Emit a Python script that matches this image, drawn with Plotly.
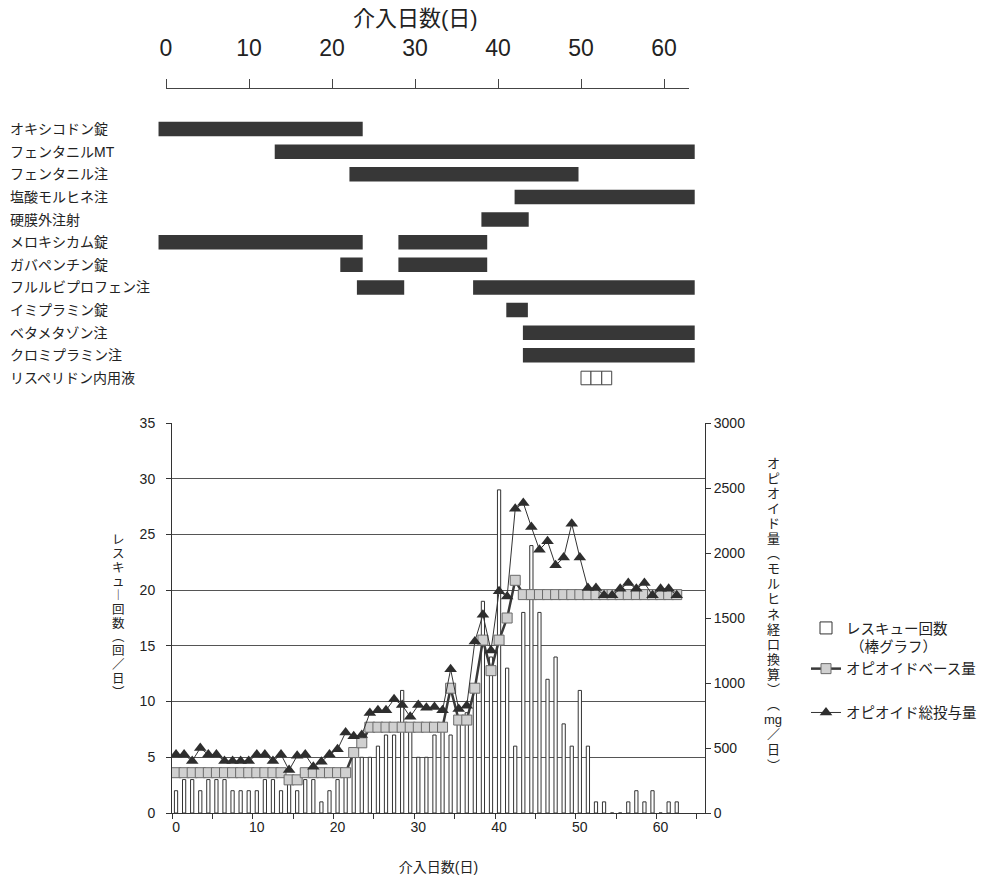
import plotly.graph_objects as go

W, H = 991, 885

# ---------------- data ----------------
days = list(range(0, 63))
rescue = [2, 3, 3, 2, 3, 3, 3, 2, 2, 2,
          2, 3, 3, 2, 3, 2, 3, 3, 1, 2,
          3, 4, 5, 5, 5, 6, 7, 7, 11, 8,
          5, 5, 7, 8, 7, 8, 9, 11, 19, 14,
          29, 13, 6, 18, 24, 18, 12, 14, 8, 6,
          11, 6, 1, 1, 0, 0, 1, 2, 1, 2,
          0, 1, 1]
base_dose = [310] * 14 + [255, 255] + [310] * 6 + [465, 540] + [660] * 10 + \
            [960, 715, 715, 960, 1330, 1095, 1330, 1500, 1790] + [1680] * 20
total_dose = [450, 450, 400, 500, 450, 450, 400, 400, 400, 400,
              450, 450, 400, 450, 330, 440, 450, 355, 395, 450,
              490, 620, 590, 600, 770, 790, 790, 875, 830, 740,
              830, 810, 815, 790, 1105, 800, 825, 1320, 1525, 1250,
              1705, 1665, 2340, 2385, 2200, 2025, 2090, 1905, 1965, 2225,
              1965, 1730, 1730, 1675, 1675, 1725, 1770, 1725, 1770, 1675,
              1725, 1725, 1675]

drug_names = ["オキシコドン錠", "フェンタニルMT", "フェンタニル注", "塩酸モルヒネ注",
              "硬膜外注射", "メロキシカム錠", "ガバペンチン錠", "フルルビプロフェン注",
              "イミプラミン錠", "ベタメタゾン注", "クロミプラミン注", "リスペリドン内用液"]
drug_periods = [
    [(-0.9, 23.7)],
    [(13.1, 63.7)],
    [(22.1, 49.7)],
    [(42.0, 63.7)],
    [(38.0, 43.7)],
    [(-0.9, 23.7), (28.0, 38.7)],
    [(21.0, 23.7), (28.0, 38.7)],
    [(23.0, 28.7), (37.0, 63.7)],
    [(41.0, 43.6)],
    [(43.0, 63.7)],
    [(43.0, 63.7)],
    [(50.0, 51.2), (51.2, 52.5), (52.5, 53.7)],
]
outline_drugs = ["リスペリドン内用液"]

bottom_x_ticks = [0, 10, 20, 30, 40, 50, 60]
top_x_ticks = [0, 10, 20, 30, 40, 50, 60]

x_title = "介入日数(日)"
left_title = "レスキュー回数(回/日)"
right_title = "オピオイド量(モルヒネ経口換算)(mg/日)"

# ---------------- helpers ----------------
def fx(p):
    return p / W

def fy(p):
    return 1 - p / H

FONT = "Liberation Sans, Noto Sans CJK JP, sans-serif"
TXT = "#222222"

fig = go.Figure()

# ---------------- bottom chart ----------------
fig.add_trace(go.Bar(
    x=days, y=rescue, width=0.4,
    marker=dict(color="white", line=dict(color="#333333", width=1)),
    name="レスキュー回数<br> （棒グラフ）",
    legendgroup="g1", xaxis="x", yaxis="y",
))
fig.add_trace(go.Scatter(
    x=days, y=base_dose, mode="lines+markers",
    line=dict(color="#3a3a3a", width=2.5),
    marker=dict(symbol="square", size=10, color="#d0d0d0",
                line=dict(color="#6a6a6a", width=1)),
    name="オピオイドベース量", legendgroup="g1",
    xaxis="x", yaxis="y2",
))
fig.add_trace(go.Scatter(
    x=days, y=total_dose, mode="lines+markers",
    line=dict(color="#333333", width=1),
    marker=dict(symbol="triangle-up", size=11, color="#2e2e2e"),
    name="オピオイド総投与量", legendgroup="g2",
    xaxis="x", yaxis="y2",
))

# ---------------- gantt chart ----------------
dark_y, dark_b, dark_l = [], [], []
white_y, white_b, white_l = [], [], []
for i, (nm, segs) in enumerate(zip(drug_names, drug_periods)):
    for s, e in segs:
        if nm in outline_drugs:
            white_y.append(i); white_b.append(s); white_l.append(e - s)
        else:
            dark_y.append(i); dark_b.append(s); dark_l.append(e - s)

fig.add_trace(go.Bar(
    y=dark_y, base=dark_b, x=dark_l, orientation="h", width=0.64,
    marker=dict(color="#373737", line=dict(width=0)),
    showlegend=False, xaxis="x2", yaxis="y3", hoverinfo="skip",
))
fig.add_trace(go.Bar(
    y=white_y, base=white_b, x=white_l, orientation="h", width=0.6,
    marker=dict(color="white", line=dict(color="#444444", width=1)),
    showlegend=False, xaxis="x2", yaxis="y3", hoverinfo="skip",
))
# carrier for the top day axis
fig.add_trace(go.Scatter(x=[], y=[], xaxis="x3", yaxis="y3",
                         showlegend=False, hoverinfo="skip"))

annotations = []
for i, nm in enumerate(drug_names):
    annotations.append(dict(
        x=fx(8), xref="paper", y=i, yref="y3", text=nm,
        showarrow=False, xanchor="left", yanchor="middle",
        font=dict(family=FONT, size=14, color=TXT),
    ))

# top axis title
annotations.append(dict(
    x=fx(415), xref="paper", y=fy(18), yref="paper", text=x_title,
    showarrow=False, xanchor="center", yanchor="middle",
    font=dict(family=FONT, size=22, color=TXT),
))

def vertical_chars(s):
    rep = {"(": "︵", ")": "︶", "ー": "︱", "/": "／"}
    out, i = [], 0
    while i < len(s):
        if s[i:i + 2] == "mg":
            out.append("mg"); i += 2; continue
        out.append(rep.get(s[i], s[i])); i += 1
    return out

def add_vertical(text, xc, y_top, pitch, size):
    for k, ch in enumerate(vertical_chars(text)):
        annotations.append(dict(
            x=fx(xc), xref="paper", y=fy(y_top + k * pitch), yref="paper",
            text=ch, showarrow=False, xanchor="center", yanchor="middle",
            font=dict(family=FONT, size=size, color=TXT),
        ))

add_vertical(left_title, 118, 540, 13.9, 12.5)
add_vertical(right_title, 773, 463, 15.1, 13)

G_LEFT0 = 166.0   # px of day 0 on top axis
G_PPD = 8.3       # px per day
g_lo, g_hi = -2, 65

fig.update_layout(
    template="none",
    width=W, height=H,
    margin=dict(l=0, r=0, t=0, b=0, pad=0),
    autosize=False,
    paper_bgcolor="white", plot_bgcolor="rgba(0,0,0,0)",
    barmode="overlay",
    font=dict(family=FONT, color=TXT, size=14),
    showlegend=True,
    legend=dict(x=fx(806), y=fy(612), xanchor="left", yanchor="top",
                font=dict(family=FONT, size=14.5, color=TXT),
                bgcolor="rgba(0,0,0,0)", valign="top", borderwidth=0,
                tracegroupgap=22, traceorder="grouped"),
    annotations=annotations,
    xaxis=dict(
        domain=[fx(172), fx(705)], range=[-0.5, 65.5], automargin=False,
        tickmode="array", tickvals=bottom_x_ticks, ticks="",
        tickfont=dict(size=14), showgrid=False, zeroline=False,
        showline=True, linecolor="#333333", linewidth=1,
        ticklabelstandoff=1,
        minor=dict(tickmode="linear", tick0=4.5, dtick=5, ticks="outside",
                   ticklen=5, tickcolor="#333333", showgrid=False),
        anchor="y",
        title=dict(text=x_title, standoff=28,
                   font=dict(family=FONT, size=14, color=TXT)),
    ),
    yaxis=dict(
        domain=[fy(813), fy(423)], range=[0, 35], dtick=5, automargin=False,
        showgrid=True, gridcolor="#555555", gridwidth=1,
        ticks="outside", ticklen=5, tickcolor="#333333",
        showline=True, linecolor="#333333", linewidth=1,
        zeroline=False, tickfont=dict(size=14), anchor="x",
        ticklabelstandoff=8,
    ),
    yaxis2=dict(
        overlaying="y", side="right", range=[0, 3000], dtick=500,
        automargin=False,
        showgrid=False, ticks="outside", ticklen=5, tickcolor="#333333",
        showline=True, linecolor="#333333", linewidth=1,
        zeroline=False, tickfont=dict(size=14), anchor="x",
    ),
    xaxis2=dict(
        domain=[fx(G_LEFT0 + g_lo * G_PPD), fx(G_LEFT0 + g_hi * G_PPD)],
        range=[g_lo, g_hi], visible=False, anchor="y3", automargin=False,
    ),
    xaxis3=dict(
        domain=[fx(G_LEFT0), fx(G_LEFT0 + 63 * G_PPD)], range=[0, 63],
        side="top", anchor="free", position=fy(88), automargin=False,
        tickmode="array", tickvals=top_x_ticks,
        ticks="outside", ticklen=9, tickcolor="#444444",
        showline=True, linecolor="#444444", linewidth=1,
        showgrid=False, zeroline=False,
        tickfont=dict(family="Liberation Sans Narrow, Liberation Sans, sans-serif",
                      size=23, color=TXT),
        ticklabelstandoff=14,
    ),
    yaxis3=dict(
        domain=[fy(389.3), fy(117.7)], range=[11.5, -0.5],
        visible=False, anchor="x2", automargin=False,
    ),
)

fig.write_html("out.html")
